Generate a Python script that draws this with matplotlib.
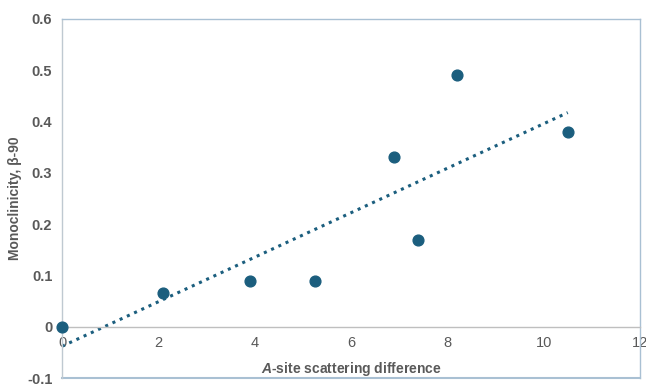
import numpy as np
import matplotlib
matplotlib.use("Agg")
import matplotlib.pyplot as plt

plt.rcParams['font.family'] = ['Liberation Sans', 'DejaVu Sans']
plt.rcParams['mathtext.fontset'] = 'custom'
plt.rcParams['mathtext.it'] = 'Liberation Sans:italic:bold'
plt.rcParams['mathtext.rm'] = 'Liberation Sans:bold'

x_vals = [0.0, 2.1, 3.9, 5.25, 6.9, 7.4, 8.2, 10.5]
y_vals = [0.0, 0.065, 0.09, 0.09, 0.33, 0.17, 0.49, 0.38]
x_ticks = [0, 2, 4, 6, 8, 10, 12]
y_ticks = [-0.1, 0, 0.1, 0.2, 0.3, 0.4, 0.5, 0.6]
y_ticklabels = ['-0.1', '0', '0.1', '0.2', '0.3', '0.4', '0.5', '0.6']

color = '#1B5E7E'
txt = '#595959'
frame = '#A9C0D3'

fig = plt.figure(figsize=(6.46, 3.84), dpi=100)
ax = fig.add_axes([0.096, 0.0156, 0.8947, 0.935])

xs = np.array(x_vals); ys = np.array(y_vals)
m, b = np.polyfit(xs, ys, 1)
xl = np.array([xs.min(), xs.max()])
ax.plot(xl, m * xl + b, linestyle=(0, (1, 1.6)), color=color, lw=2.2, zorder=2)
ax.scatter(xs, ys, s=60, color=color, zorder=3, clip_on=False)

ax.set_xlim(0, 12)
ax.set_ylim(-0.1, 0.6)
ax.set_xticks(x_ticks)
ax.set_yticks(y_ticks)
ax.set_yticklabels(y_ticklabels)
ax.tick_params(axis='y', length=0, labelsize=10.5, labelcolor=txt, pad=7)
ax.tick_params(axis='x', length=0, labelsize=10.5, labelcolor=txt, pad=7)
for lab in ax.get_xticklabels() + ax.get_yticklabels():
    lab.set_fontweight('bold')

ax.spines['bottom'].set_position(('data', 0))
ax.spines['bottom'].set_color('#BFBFBF')
ax.spines['left'].set_color('#BFC9D1')
ax.spines['top'].set_color(frame)
ax.spines['right'].set_color(frame)
for s in ax.spines.values():
    s.set_linewidth(1.0)
ax.axhline(-0.1, color=frame, lw=1.5, clip_on=False)

ax.set_xlabel(r'$\it{A}$-site scattering difference', fontsize=10, color=txt,
              fontweight='bold', labelpad=7)
ax.set_ylabel('Monoclinicity, β-90', fontsize=10, color=txt, fontweight='bold')
ax.yaxis.set_label_coords(-0.069, 0.5)

fig.savefig('out.png', dpi=100)
